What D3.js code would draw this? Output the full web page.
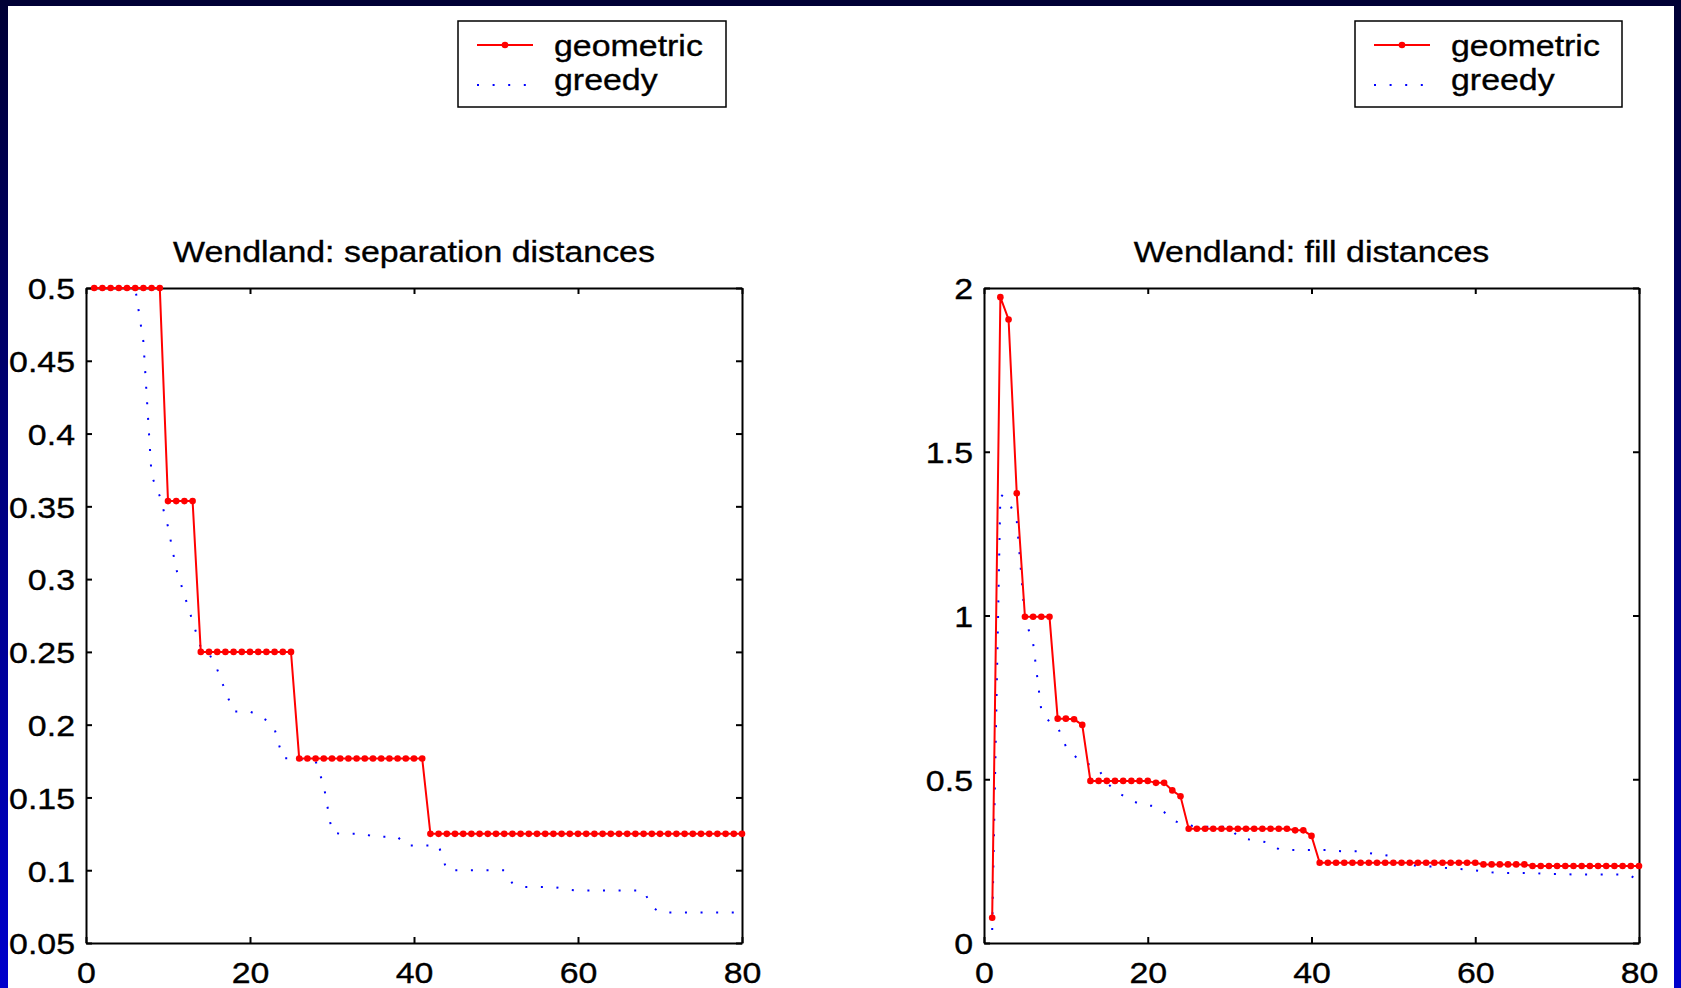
<!DOCTYPE html>
<html>
<head>
<meta charset="utf-8">
<script src="https://cdn.jsdelivr.net/npm/d3@7"></script>
<style>
  html, body { margin: 0; padding: 0; background: #fff; }
  svg { display: block; }
  text { font-family: "Liberation Sans", Arial, sans-serif; fill: #000; stroke: #000; stroke-width: 0.35px; }
</style>
</head>
<body>
<svg id="chart" width="1681" height="988"></svg>
<script>
// ---------- data ----------
const xValues = d3.range(1, 81);
const xTicks = [0, 20, 40, 60, 80];
const xTickLabels = ["0", "20", "40", "60", "80"];

const sepTicks = [0.05, 0.1, 0.15, 0.2, 0.25, 0.3, 0.35, 0.4, 0.45, 0.5];
const sepTickLabels = ["0.05", "0.1", "0.15", "0.2", "0.25", "0.3", "0.35", "0.4", "0.45", "0.5"];
const fillTicks = [0, 0.5, 1, 1.5, 2];
const fillTickLabels = ["0", "0.5", "1", "1.5", "2"];

const seriesNames = ["geometric", "greedy"];
const titles = ["Wendland: separation distances", "Wendland: fill distances"];

const sepGeometric = [
  0.5, 0.5, 0.5, 0.5, 0.5, 0.5, 0.5, 0.5, 0.5, 0.3536,
  0.3536, 0.3536, 0.3536, 0.25, 0.25, 0.25, 0.25, 0.25, 0.25, 0.25,
  0.25, 0.25, 0.25, 0.25, 0.25, 0.1768, 0.1768, 0.1768, 0.1768, 0.1768,
  0.1768, 0.1768, 0.1768, 0.1768, 0.1768, 0.1768, 0.1768, 0.1768, 0.1768, 0.1768,
  0.1768, 0.125, 0.125, 0.125, 0.125, 0.125, 0.125, 0.125, 0.125, 0.125,
  0.125, 0.125, 0.125, 0.125, 0.125, 0.125, 0.125, 0.125, 0.125, 0.125,
  0.125, 0.125, 0.125, 0.125, 0.125, 0.125, 0.125, 0.125, 0.125, 0.125,
  0.125, 0.125, 0.125, 0.125, 0.125, 0.125, 0.125, 0.125, 0.125, 0.125
];
const sepGreedy = [
  0.5, 0.5, 0.5, 0.5, 0.5, 0.5, 0.463, 0.371, 0.357, 0.336,
  0.307, 0.289, 0.271, 0.253, 0.249, 0.238, 0.223, 0.209, 0.209, 0.209,
  0.2065, 0.203, 0.197, 0.177, 0.177, 0.176, 0.176, 0.175, 0.158, 0.126,
  0.125, 0.125, 0.125, 0.125, 0.123, 0.123, 0.123, 0.123, 0.117, 0.117,
  0.117, 0.117, 0.117, 0.100, 0.100, 0.100, 0.100, 0.100, 0.100, 0.100,
  0.100, 0.091, 0.0885, 0.0885, 0.0885, 0.0885, 0.0885, 0.0875, 0.0865, 0.086,
  0.086, 0.086, 0.086, 0.086, 0.086, 0.086, 0.086, 0.086, 0.075, 0.071,
  0.071, 0.071, 0.071, 0.071, 0.071, 0.071, 0.071, 0.071, 0.071, 0.071
];
const fillGeometric = [
  0.077, 1.972, 1.904, 1.373, 0.996, 0.996, 0.996, 0.996, 0.685, 0.685,
  0.683, 0.666, 0.495, 0.495, 0.495, 0.495, 0.495, 0.495, 0.495, 0.495,
  0.489, 0.489, 0.466, 0.448, 0.349, 0.349, 0.349, 0.349, 0.349, 0.349,
  0.349, 0.349, 0.349, 0.349, 0.349, 0.349, 0.349, 0.344, 0.344, 0.327,
  0.245, 0.245, 0.245, 0.245, 0.245, 0.245, 0.245, 0.245, 0.245, 0.245,
  0.245, 0.245, 0.245, 0.245, 0.245, 0.245, 0.245, 0.245, 0.245, 0.245,
  0.240, 0.240, 0.240, 0.240, 0.240, 0.240, 0.235, 0.235, 0.235, 0.235,
  0.235, 0.235, 0.235, 0.235, 0.235, 0.235, 0.235, 0.235, 0.235, 0.235
];
const fillGreedy = [
  0.04, 1.37, 1.35, 1.29, 0.99, 0.915, 0.71, 0.675, 0.66, 0.60,
  0.573, 0.55, 0.545, 0.53, 0.49, 0.465, 0.45, 0.435, 0.425, 0.42,
  0.418, 0.40, 0.375, 0.366, 0.36, 0.355, 0.355, 0.355, 0.355, 0.355,
  0.324, 0.318, 0.313, 0.31, 0.305, 0.286, 0.284, 0.284, 0.284, 0.284,
  0.284, 0.284, 0.281, 0.280, 0.280, 0.280, 0.275, 0.27, 0.268, 0.264,
  0.243, 0.238, 0.236, 0.234, 0.233, 0.23, 0.228, 0.226, 0.224, 0.222,
  0.219, 0.216, 0.214, 0.214, 0.214, 0.214, 0.214, 0.212, 0.211, 0.211,
  0.211, 0.209, 0.209, 0.209, 0.209, 0.209, 0.209, 0.209, 0.205, 0.19
];

// ---------- drawing ----------
const W = 1681, H = 988;
const FONT = 30, STRETCH = 1.13;
const svg = d3.select("#chart");

const defs = svg.append("defs");
const grad = defs.append("linearGradient").attr("id", "frameGrad")
  .attr("x1", 0).attr("y1", 0).attr("x2", 0).attr("y2", 1);
grad.append("stop").attr("offset", "0%").attr("stop-color", "#000035");
grad.append("stop").attr("offset", "100%").attr("stop-color", "#0000cc");

svg.append("rect").attr("width", W).attr("height", H).attr("fill", "url(#frameGrad)");
svg.append("rect").attr("x", 8).attr("y", 6).attr("width", 1666).attr("height", H - 6).attr("fill", "#fff");

function stretch(sel) {
  sel.each(function () {
    const w = this.getComputedTextLength();
    this.setAttribute("textLength", w * STRETCH);
    this.setAttribute("lengthAdjust", "spacingAndGlyphs");
  });
}

function panel(opt) {
  const { left, right, top, bottom, yDomain, yTicks, yLabels, geo, gre, title, legend } = opt;
  const x = d3.scaleLinear().domain([0, 80]).range([left, right]);
  const y = d3.scaleLinear().domain(yDomain).range([bottom, top]);
  const g = svg.append("g");

  const fmtX = d => xTickLabels[xTicks.indexOf(d)];
  const fmtY = d => yLabels[yTicks.indexOf(d)];

  const axB = g.append("g").attr("transform", `translate(0,${bottom})`)
    .call(d3.axisBottom(x).tickValues(xTicks).tickFormat(fmtX).tickSizeInner(-6).tickSizeOuter(0).tickPadding(19));
  const axT = g.append("g").attr("transform", `translate(0,${top})`)
    .call(d3.axisTop(x).tickValues(xTicks).tickFormat("").tickSizeInner(-6).tickSizeOuter(0));
  const axL = g.append("g").attr("transform", `translate(${left},0)`)
    .call(d3.axisLeft(y).tickValues(yTicks).tickFormat(fmtY).tickSizeInner(-6).tickSizeOuter(0).tickPadding(11));
  const axR = g.append("g").attr("transform", `translate(${right},0)`)
    .call(d3.axisRight(y).tickValues(yTicks).tickFormat("").tickSizeInner(-6).tickSizeOuter(0));

  [axB, axT, axL, axR].forEach(a => {
    a.select(".domain").attr("stroke", "#000").attr("stroke-width", 2);
    a.selectAll(".tick line").attr("stroke", "#000").attr("stroke-width", 2);
    a.selectAll("text").attr("font-size", FONT).attr("font-family", "Liberation Sans, Arial, sans-serif").attr("fill", "#000");
  });
  axL.selectAll("text").attr("dy", "0.36em");
  stretch(axB.selectAll("text"));
  stretch(axL.selectAll("text"));

  // greedy dotted line
  const line = d3.line().x((d, i) => x(xValues[i])).y(d => y(d));
  g.append("path").datum(gre).attr("d", line)
    .attr("fill", "none").attr("stroke", "#0000ff").attr("stroke-width", 2)
    .attr("stroke-dasharray", "2,13.6");

  // geometric line with markers
  g.append("path").datum(geo).attr("d", line)
    .attr("fill", "none").attr("stroke", "#ff0000").attr("stroke-width", 2);
  g.selectAll("circle.geo").data(geo).enter().append("circle")
    .attr("class", "geo")
    .attr("cx", (d, i) => x(xValues[i])).attr("cy", d => y(d))
    .attr("r", 3.3).attr("fill", "#ff0000");

  // title
  const t = g.append("text").attr("x", (left + right) / 2).attr("y", 262)
    .attr("text-anchor", "middle").attr("font-size", FONT).text(title);
  stretch(t);

  // legend
  const lg = svg.append("g");
  lg.append("rect").attr("x", legend.x).attr("y", legend.y).attr("width", legend.w).attr("height", legend.h)
    .attr("fill", "#fff").attr("stroke", "#000").attr("stroke-width", 1.5);
  const lx0 = legend.x + 19, lx1 = legend.x + 75;
  lg.append("line").attr("x1", lx0).attr("x2", lx1).attr("y1", legend.y + 24).attr("y2", legend.y + 24)
    .attr("stroke", "#ff0000").attr("stroke-width", 2);
  lg.append("circle").attr("cx", (lx0 + lx1) / 2).attr("cy", legend.y + 24).attr("r", 3.3).attr("fill", "#ff0000");
  lg.append("line").attr("x1", lx0).attr("x2", lx1 - 6).attr("y1", legend.y + 64).attr("y2", legend.y + 64)
    .attr("stroke", "#0000ff").attr("stroke-width", 2).attr("stroke-dasharray", "2,13.6");
  const t1 = lg.append("text").attr("x", legend.x + 96).attr("y", legend.y + 35).attr("font-size", FONT).text(seriesNames[0]);
  const t2 = lg.append("text").attr("x", legend.x + 96).attr("y", legend.y + 69).attr("font-size", FONT).text(seriesNames[1]);
  stretch(t1); stretch(t2);
}

panel({
  left: 86, right: 742, top: 288, bottom: 943,
  yDomain: [0.05, 0.5], yTicks: sepTicks, yLabels: sepTickLabels,
  geo: sepGeometric, gre: sepGreedy, title: titles[0],
  legend: { x: 458, y: 21, w: 268, h: 86 }
});
panel({
  left: 984, right: 1639, top: 288, bottom: 943,
  yDomain: [0, 2], yTicks: fillTicks, yLabels: fillTickLabels,
  geo: fillGeometric, gre: fillGreedy, title: titles[1],
  legend: { x: 1355, y: 21, w: 267, h: 86 }
});
</script>
</body>
</html>
